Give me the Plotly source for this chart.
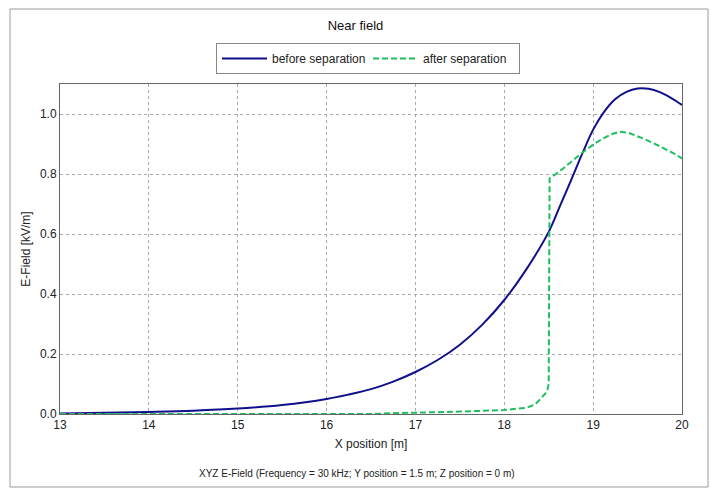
import plotly.graph_objects as go

# before separation
x_before = [13.0, 13.5, 14.0, 14.5, 15.0, 15.5, 16.0, 16.25, 16.5, 16.75, 17.0, 17.25, 17.5,
            17.75, 18.0, 18.25, 18.5, 18.625, 18.75, 18.875, 19.0, 19.125, 19.25, 19.375, 19.5,
            19.625, 19.75, 19.875, 20.0]
y_before = [0.002, 0.004, 0.007, 0.011, 0.018, 0.030, 0.050, 0.065, 0.083, 0.108, 0.140, 0.180, 0.231,
            0.297, 0.380, 0.483, 0.607, 0.692, 0.778, 0.866, 0.948, 1.008, 1.050, 1.074, 1.085,
            1.084, 1.073, 1.054, 1.030]

# after separation
x_after = [13.0, 16.5, 16.8, 17.0, 17.5, 18.0, 18.25, 18.35, 18.4, 18.45, 18.48, 18.5, 18.505, 18.51,
           18.62, 18.75, 18.87, 19.0, 19.08, 19.2, 19.3, 19.4, 19.56, 19.76, 19.9, 20.0]
y_after = [0.0, 0.0, 0.003, 0.004, 0.008, 0.013, 0.021, 0.032, 0.047, 0.062, 0.074, 0.100, 0.500, 0.785,
           0.808, 0.840, 0.869, 0.898, 0.913, 0.932, 0.941, 0.937, 0.919, 0.891, 0.870, 0.852]

fig = go.Figure()
fig.add_trace(go.Scatter(x=x_before, y=y_before, mode="lines", name="before separation",
                         line=dict(color="#10108a", width=2, shape="spline", smoothing=1.0)))
fig.add_trace(go.Scatter(x=x_after, y=y_after, mode="lines", name="after separation",
                         line=dict(color="#1fbf5f", width=2, dash="6px,3px")))

font = "Liberation Sans, Arial, sans-serif"
fig.update_layout(
    width=711, height=491,
    margin=dict(l=60, r=29, t=84, b=77, autoexpand=False),
    paper_bgcolor="white", plot_bgcolor="white",
    font=dict(family=font, size=12, color="#222"),
    title=dict(text="Near field", x=0.5, xanchor="center", y=1 - 25 / 491, yanchor="middle",
               font=dict(size=13, color="#111")),
    showlegend=True,
    legend=dict(orientation="h", x=(216 - 60) / 622, xanchor="left", y=(414 - 43) / 330, yanchor="top",
                bordercolor="#888", borderwidth=1, bgcolor="white", itemwidth=45, entrywidth=91,
                font=dict(size=12, color="#222")),
    xaxis=dict(range=[13, 20], dtick=1, showgrid=True, gridcolor="#aaa", griddash="3px,3px",
               showline=True, linecolor="#666", mirror=True, zeroline=False, automargin=False,
               title=dict(text="X position [m]", standoff=8, font=dict(size=12)), ticks=""),
    yaxis=dict(range=[0, 1.1], tickvals=[0, 0.2, 0.4, 0.6, 0.8, 1.0], tickformat=".1f",
               showgrid=True, gridcolor="#aaa", griddash="3px,3px",
               showline=True, linecolor="#666", mirror=True, zeroline=False, automargin=False,
               title=dict(text="E-Field [kV/m]", standoff=6, font=dict(size=12)), ticks=""),
    shapes=[dict(type="rect", xref="paper", yref="paper", x0=(10 - 60) / 622, x1=(708 - 60) / 622,
                 y0=(414 - 487) / 330, y1=(414 - 9) / 330,
                 line=dict(color="#999", width=1), fillcolor="rgba(0,0,0,0)", layer="below")],
    annotations=[dict(text="XYZ E-Field (Frequency = 30 kHz; Y position = 1.5 m; Z position = 0 m)",
                      xref="paper", yref="paper", x=(357 - 60) / 622, y=(414 - 473) / 330,
                      xanchor="center", yanchor="middle", showarrow=False,
                      font=dict(size=10, color="#222"))],
)

fig.write_html("out.html", config={"displayModeBar": False},
               post_script="document.body.style.margin='0';document.body.style.padding='0';")
